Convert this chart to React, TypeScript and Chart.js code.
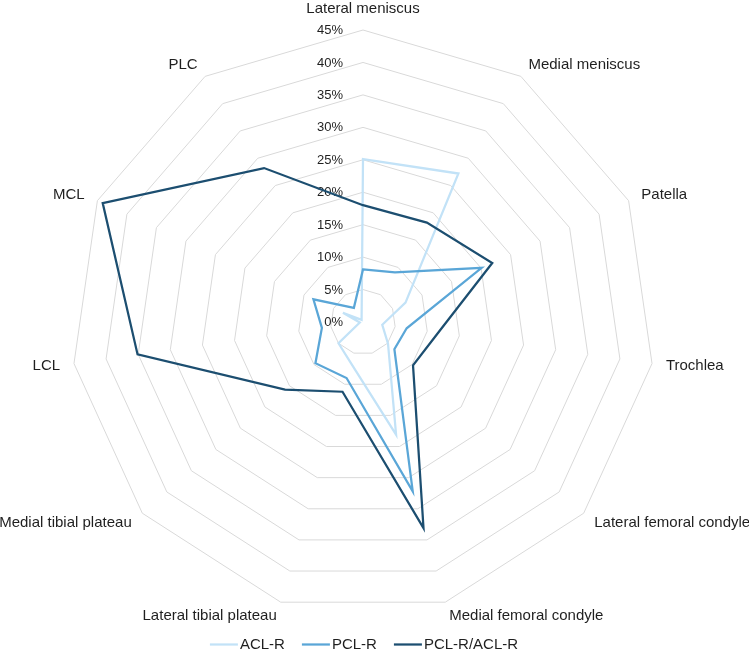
import React, { useEffect, useRef } from "react";
import { Chart, registerables } from "chart.js";

Chart.register(...registerables);

const categories = [
  "Lateral meniscus",
  "Medial meniscus",
  "Patella",
  "Trochlea",
  "Lateral femoral condyle",
  "Medial femoral condyle",
  "Lateral tibial plateau",
  "Medial tibial plateau",
  "LCL",
  "MCL",
  "PLC",
];

const aclR = [25.1, 27.2, 7.2, 3.0, 5.1, 18.1, 6.6, 5.0, 0.5, 3.4, 0.4];
const pclR = [8.1, 9.1, 20.1, 6.8, 6.4, 27.2, 9.0, 9.7, 6.4, 8.4, 2.6];
const pclAclR = [18.0, 18.2, 21.9, 11.7, 10.2, 33.1, 11.2, 15.9, 35.1, 44.1, 28.2];

const seriesNames = ["ACL-R", "PCL-R", "PCL-R/ACL-R"];
const seriesColors = ["#c2e2f7", "#5aa6d7", "#1c4e70"];

const tickValues = [0, 5, 10, 15, 20, 25, 30, 35, 40, 45];

const FONT = '"Liberation Sans", Arial, sans-serif';
const TEXT = "#1f1f1f";

const excelLabels = {
  id: "excelLabels",
  beforeDatasetsDraw(chart: any) {
    const scale = chart.scales.r;
    const ctx = chart.ctx;
    ctx.save();
    // tick labels (left of vertical axis)
    ctx.font = `13px ${FONT}`;
    ctx.fillStyle = TEXT;
    ctx.textAlign = "right";
    ctx.textBaseline = "middle";
    tickValues.forEach((v) => {
      const p = scale.getPointPositionForValue(0, v);
      ctx.fillText(`${v}%`, p.x - 20, p.y + 0.5);
    });
    // category labels
    ctx.font = `15px ${FONT}`;
    categories.forEach((c, i) => {
      const p = scale.getPointPosition(i, scale.drawingArea + 14);
      const cs = Math.cos(p.angle);
      const sn = Math.sin(p.angle);
      if (Math.abs(cs) < 0.01) {
        ctx.textAlign = "center";
        ctx.textBaseline = sn < 0 ? "bottom" : "top";
      } else {
        ctx.textAlign = cs > 0 ? "left" : "right";
        ctx.textBaseline = "middle";
      }
      ctx.fillText(c, p.x, p.y);
    });
    ctx.restore();
  },
  afterDraw(chart: any) {
    const ctx = chart.ctx;
    ctx.save();
    ctx.font = `15px ${FONT}`;
    const lineW = 28;
    const gap = 2;
    const itemGap = 17;
    const widths = seriesNames.map((n) => ctx.measureText(n).width);
    const total =
      widths.reduce((a: number, b: number) => a + b, 0) +
      seriesNames.length * (lineW + gap) +
      (seriesNames.length - 1) * itemGap;
    let x = 364 - total / 2;
    const y = 644.5;
    chart.data.datasets.forEach((ds: any, i: number) => {
      ctx.strokeStyle = ds.borderColor;
      ctx.lineWidth = ds.borderWidth;
      ctx.beginPath();
      ctx.moveTo(x, y);
      ctx.lineTo(x + lineW, y);
      ctx.stroke();
      x += lineW + gap;
      ctx.fillStyle = TEXT;
      ctx.textAlign = "left";
      ctx.textBaseline = "middle";
      ctx.fillText(ds.label, x, y + 0.5);
      x += widths[i] + itemGap;
    });
    ctx.restore();
  },
};

export default function App() {
  const ref = useRef<HTMLCanvasElement>(null);
  useEffect(() => {
    if (!ref.current) return;
    Chart.defaults.font.family = FONT;
    const series = [aclR, pclR, pclAclR];
    const chart = new Chart(ref.current, {
      type: "radar",
      data: {
        labels: categories,
        datasets: series.map((d, i) => ({
          label: seriesNames[i],
          data: d,
          borderColor: seriesColors[i],
          backgroundColor: seriesColors[i],
          borderWidth: 2.25,
          pointRadius: 0,
          pointHoverRadius: 0,
          fill: false,
          tension: 0,
          order: 3 - i,
        })),
      },
      options: {
        responsive: false,
        animation: false,
        devicePixelRatio: 1,
        layout: { padding: { left: 71, right: 93, top: 29, bottom: 47 } },
        plugins: {
          legend: { display: false },
          tooltip: { enabled: false },
          title: { display: false },
        },
        scales: {
          r: {
            min: 0,
            max: 45,
            ticks: { stepSize: 5, display: false },
            grid: { color: "#d9d9d9", lineWidth: 1, circular: false },
            angleLines: { display: false },
            pointLabels: { display: false },
          },
        },
      },
      plugins: [excelLabels],
    });
    return () => chart.destroy();
  }, []);
  return (
    <div style={{ position: "absolute", left: 0, top: 0, width: 749, height: 662, background: "#fff" }}>
      <canvas ref={ref} width={749} height={662} style={{ display: "block" }} />
    </div>
  );
}
